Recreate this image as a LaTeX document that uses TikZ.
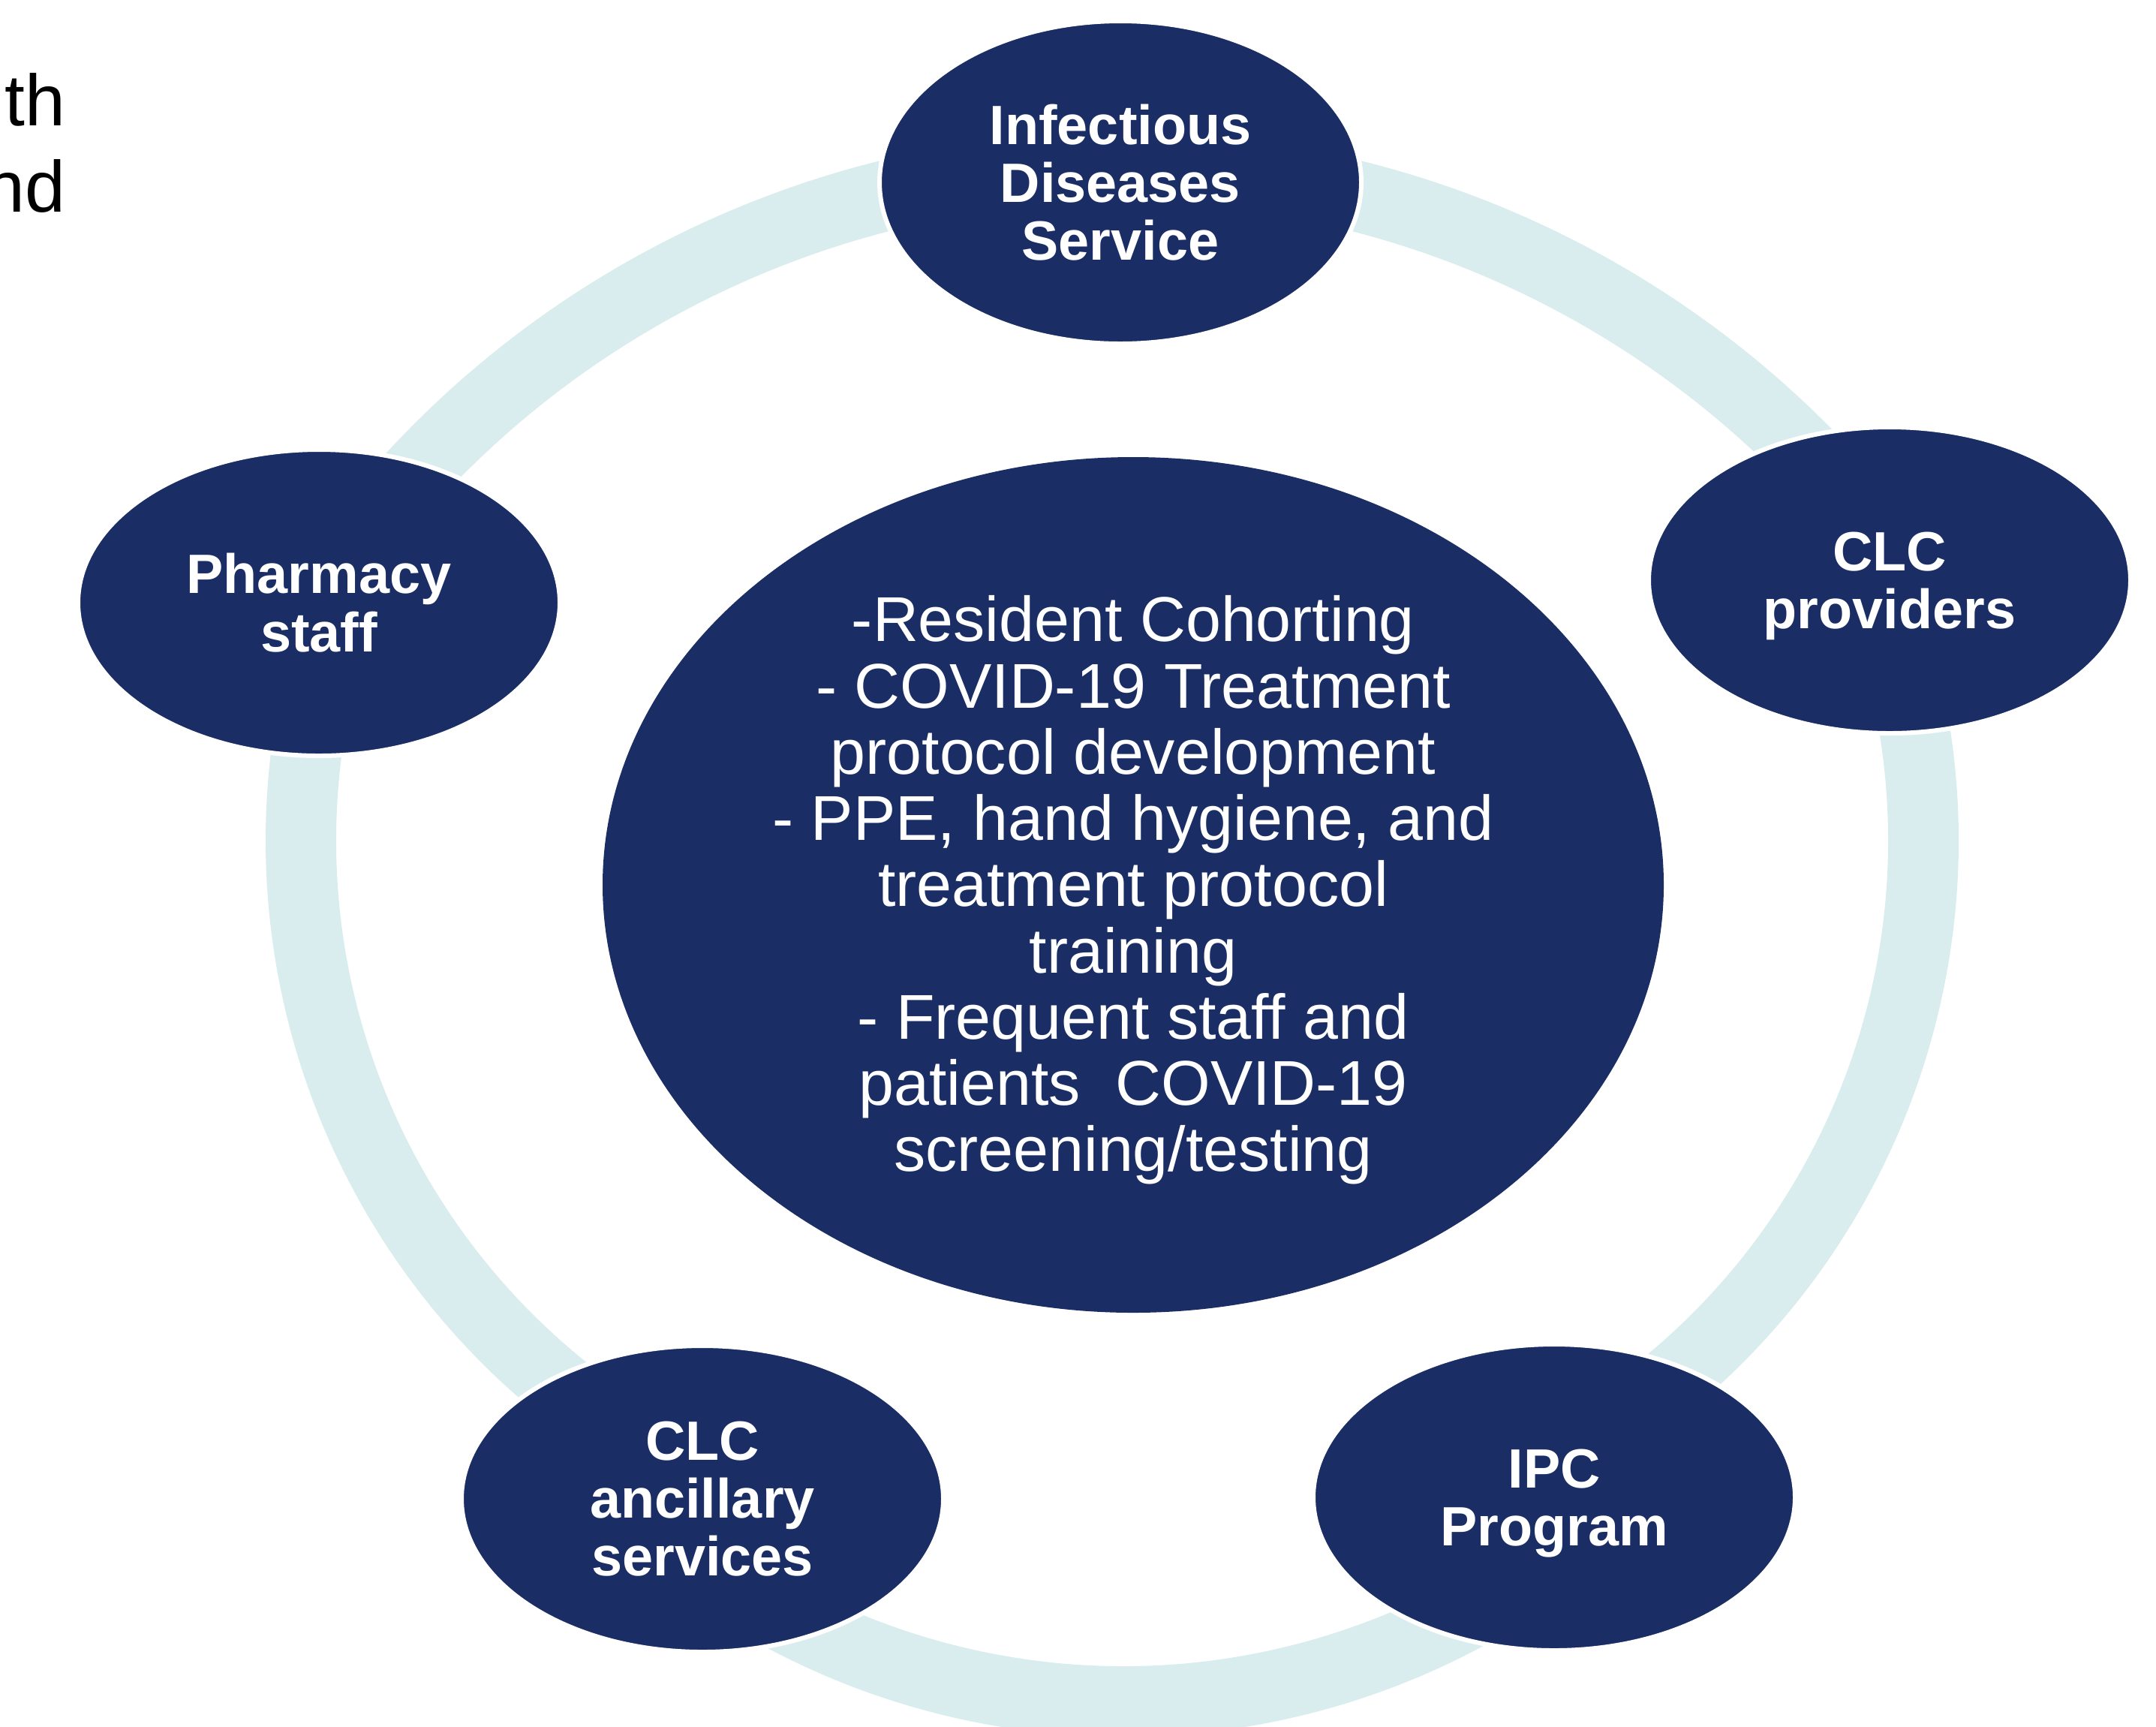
\documentclass[tikz,border=0pt]{standalone}
\usepackage{fontspec}
\setmainfont{Liberation Sans}
\usetikzlibrary{shapes.geometric}
\definecolor{navyfill}{RGB}{26,45,100}
\definecolor{ringcyan}{RGB}{218,237,238}
\begin{document}
\begin{tikzpicture}[x=1cm,y=1cm,
		member/.style={ellipse,fill=navyfill,draw=white,line width=0.06cm,minimum width=6.42cm,minimum height=4.08cm,inner sep=0pt,align=center,text=white,font=\mylabelfont},
		hub/.style={ellipse,fill=navyfill,minimum width=14.14cm,minimum height=11.40cm,inner sep=0pt},
		hubtext/.style={inner sep=0pt,align=center,text=white,font=\mybodyfont},
		ringline/.style={draw=ringcyan,line width=0.94cm},
		cuttext/.style={anchor=base east,inner sep=0pt,font=\mycutfont}]
			\newcommand{\mylabelfont}{\fontsize{21}{22}\selectfont\bfseries}
			\newcommand{\mybodyfont}{\fontsize{24}{25.1}\selectfont}
			\newcommand{\mycutfont}{\fontsize{27.5}{33}\selectfont}
			%Last line without its descender
			\newcommand{\mynodepth}[1]{\raisebox{0pt}[\height][0pt]{#1}}
			%Page frame
			\useasboundingbox (0,0) rectangle (28.73,-23);
			\clip (0,0) rectangle (28.73,-23);
			%Centers of the ring arcs
			\coordinate (arcTop) at (14.93,-15.06);
			\coordinate (arcLeft) at (13.39,-11.20);
			\coordinate (arcRight) at (16.25,-11.20);
			\coordinate (arcBottom) at (14.97,-13.03);
			%The ring behind the members
			\draw [ringline] (arcTop) ++(140:12.84) arc [start angle=140,end angle=41,radius=12.84];
			\draw [ringline] (arcRight) ++(10:9.38) arc [start angle=10,end angle=-54,radius=9.38];
			\draw [ringline] (arcBottom) ++(-40:9.64) arc [start angle=-40,end angle=-140,radius=9.64];
			\draw [ringline] (arcLeft) ++(234:9.38) arc [start angle=234,end angle=170,radius=9.38];
			%Centers of the members
			\coordinate (cInfect) at (14.93,-2.43);
			\coordinate (cProv) at (25.18,-7.73);
			\coordinate (cIpc) at (20.71,-19.95);
			\coordinate (cAncil) at (9.36,-19.97);
			\coordinate (cPharm) at (4.25,-8.03);
			\coordinate (cHub) at (15.10,-11.79);
			%Members
			\node [member,minimum height=4.30cm] (infect) at (cInfect) {Infectious\\Diseases\\Service};
			\node [member] (prov) at (cProv) {CLC\\\mynodepth{providers}};
			\node [member] (ipc) at (cIpc) {IPC\\\mynodepth{Program}};
			\node [member] (ancil) at (cAncil) {CLC\\ancillary\\services};
			\node [member] (pharm) at (cPharm) {Pharmacy\\staff};
			%Center
			\node [hub] (hub) at (cHub) {};
			\node [hubtext] (hubText) at ([yshift=-0.07cm]hub.center) {-Resident Cohorting\\- COVID-19 Treatment\\protocol development\\- PPE, hand hygiene, and\\treatment protocol\\training\\- Frequent staff and\\patients\ \ COVID-19\\screening/testing};
			%Cut words at the left edge
			\node [cuttext] (cutTh) at (0.88,-1.67) {th};
			\node [cuttext] (cutNd) at (0.88,-2.82) {nd};
\end{tikzpicture}
\end{document}
